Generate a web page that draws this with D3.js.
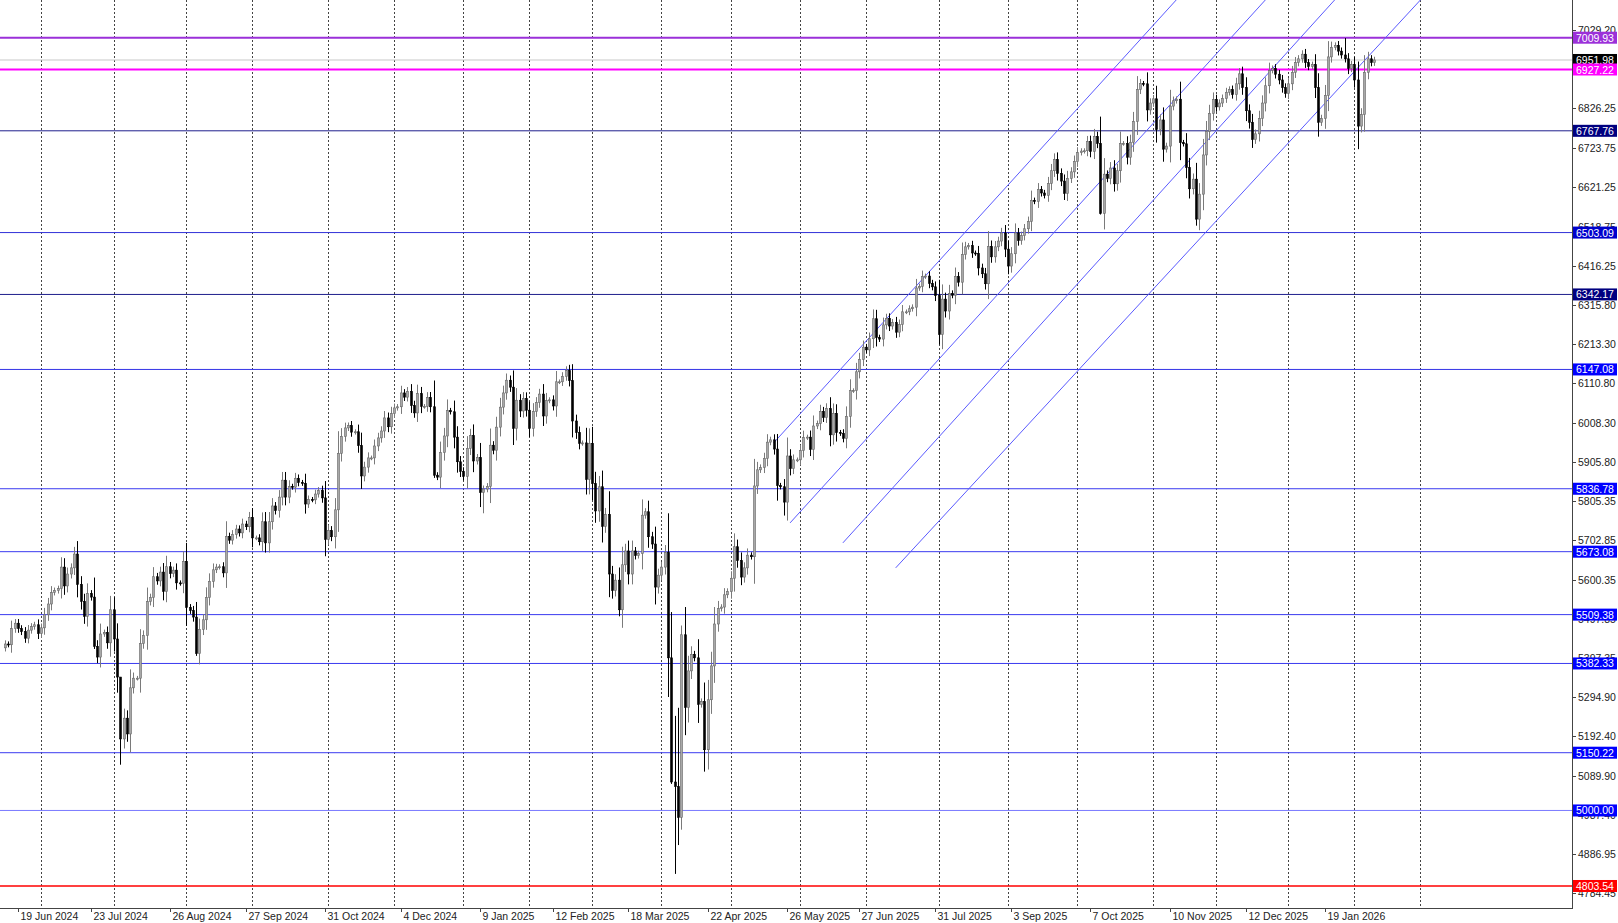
<!DOCTYPE html>
<html>
<head>
<meta charset="utf-8">
<script src="https://cdn.jsdelivr.net/npm/d3@7"></script>
<style>
  body { margin: 0; background: #fff; }
  text { font-family: "Liberation Sans", Arial, sans-serif; }
</style>
</head>
<body>
<svg id="chart" width="1618" height="923"></svg>
<script>
// daily closes, one per trading day starting 13 Jun 2024
const closes = [
  // Jun 2024
  5433, 5431, 5473, 5487, 5473, 5465, 5448, 5469, 5478, 5483, 5460,
  // Jul
  5475, 5509, 5537, 5567, 5572, 5577, 5633, 5584, 5615, 5631, 5667, 5588, 5544, 5505, 5564, 5555, 5427, 5399, 5459, 5463, 5436, 5522,
  // Aug
  5446, 5347, 5186, 5240, 5199, 5319, 5344, 5344, 5434, 5455, 5543, 5554, 5608, 5597, 5620, 5570, 5634, 5616, 5625, 5592, 5591, 5648,
  // Sep
  5528, 5520, 5503, 5408, 5471, 5496, 5554, 5596, 5626, 5633, 5634, 5618, 5713, 5703, 5718, 5732, 5722, 5745, 5738, 5762,
  // Oct
  5709, 5709, 5699, 5751, 5696, 5751, 5792, 5780, 5815, 5859, 5815, 5843, 5841, 5864, 5853, 5851, 5797, 5809, 5808, 5823, 5832, 5813, 5705,
  // Nov
  5728, 5712, 5782, 5929, 5973, 5995, 6001, 5984, 5985, 5949, 5870, 5893, 5917, 5917, 5948, 5969, 5987, 6021, 5998, 6032,
  // Dec
  6047, 6050, 6086, 6075, 6090, 6053, 6034, 6084, 6051, 6051, 6074, 6050, 5872, 5867, 5931, 5974, 6040, 6037, 5971, 5907, 5882,
  // Jan 2025
  5869, 5942, 5975, 5909, 5918, 5827, 5836, 5843, 5950, 5937, 5997, 6049, 6086, 6119, 6101, 5994, 6067, 6039, 6071, 6041,
  // Feb
  5994, 6038, 6061, 6083, 6026, 6066, 6068, 6052, 6115, 6115, 6129, 6144, 6118, 6013, 5983, 5955, 5956, 5861, 5955,
  // Mar
  5850, 5779, 5842, 5739, 5770, 5615, 5572, 5599, 5522, 5639, 5675, 5615, 5675, 5663, 5668, 5768, 5777, 5712, 5693, 5581, 5612,
  // Apr
  5633, 5671, 5397, 5074, 5062, 4982, 5457, 5268, 5363, 5406, 5397, 5276, 5283, 5158, 5288, 5376, 5485, 5525, 5529, 5561, 5569,
  // May
  5604, 5686, 5650, 5607, 5631, 5664, 5660, 5844, 5886, 5892, 5916, 5958, 5964, 5940, 5845, 5842, 5802, 5922, 5889, 5912, 5912,
  // Jun
  5936, 5970, 5971, 5939, 6000, 6006, 6038, 6022, 6045, 5977, 6033, 5983, 5981, 5968, 6025, 6092, 6092, 6141, 6173, 6205,
  // Jul
  6198, 6227, 6279, 6230, 6226, 6263, 6280, 6260, 6269, 6244, 6264, 6297, 6297, 6305, 6309, 6359, 6363, 6389, 6390, 6371, 6362, 6339,
  // Aug
  6238, 6330, 6299, 6345, 6340, 6389, 6374, 6446, 6466, 6469, 6450, 6449, 6411, 6396, 6370, 6467, 6440, 6466, 6481, 6502, 6460,
  // Sep
  6416, 6448, 6502, 6482, 6495, 6513, 6532, 6587, 6584, 6615, 6606, 6600, 6631, 6664, 6693, 6657, 6637, 6605, 6644, 6661, 6688,
  // Oct
  6711, 6715, 6716, 6740, 6714, 6753, 6735, 6553, 6655, 6644, 6671, 6630, 6664, 6735, 6735, 6699, 6738, 6792, 6875, 6891, 6890, 6822, 6840,
  // Nov
  6851, 6771, 6796, 6720, 6728, 6832, 6846, 6850, 6737, 6734, 6672, 6617, 6642, 6538, 6603, 6705, 6766, 6813, 6849,
  // Dec
  6830, 6840, 6852, 6868, 6875, 6862, 6890, 6916, 6880, 6820, 6790, 6745, 6760, 6800, 6840, 6885, 6925, 6930, 6915, 6900, 6880, 6865,
  // Jan 2026
  6890, 6920, 6945, 6955, 6967, 6945, 6935, 6940, 6880, 6790, 6800, 6860, 6960, 6985, 6990, 6975, 6965, 6955, 6930, 6940,
  // Feb
  6900, 6780, 6810, 6920, 6955, 6945, 6952
];

const holidays = [
  "2024-06-19", "2024-07-04", "2024-09-02", "2024-11-28", "2024-12-25",
  "2025-01-01", "2025-01-09", "2025-01-20", "2025-02-17", "2025-04-18",
  "2025-05-26", "2025-06-19", "2025-07-04", "2025-09-01", "2025-11-27",
  "2025-12-25", "2026-01-01", "2026-01-19"
];

// long wicks that stand out in the picture
const spikes = [
  { date: "2024-07-24", low: 5420 },
  { date: "2024-08-05", low: 5119, high: 5312 },
  { date: "2024-09-06", low: 5402 },
  { date: "2024-12-18", low: 5865 },
  { date: "2025-01-13", low: 5773 },
  { date: "2025-03-13", low: 5505 },
  { date: "2025-04-04", low: 5069 },
  { date: "2025-04-07", low: 4835, high: 5246 },
  { date: "2025-04-08", high: 5267, low: 4910 },
  { date: "2025-04-09", low: 4950, high: 5481 },
  { date: "2025-04-21", low: 5101 },
  { date: "2025-05-23", low: 5767 },
  { date: "2025-08-01", low: 6212 },
  { date: "2025-10-10", low: 6550 },
  { date: "2025-11-20", low: 6521 },
  { date: "2026-02-03", low: 6720 },
  { date: "2026-01-28", high: 7009 }
];

const levels = [7009.93, 6951.98, 6927.22, 6767.76, 6503.09, 6342.17, 6147.08, 5836.78, 5673.08, 5509.38, 5382.33, 5150.22, 5000.00, 4803.54];
const levelColors = ["#9b30d9", "#c8c8c8", "#ff00ff", "#1e1e8c", "#3030d8", "#1e1e8c", "#3434e6", "#3a3af0", "#3a3af0", "#3a3af0", "#3a3af0", "#3a3af0", "#7a7aff", "#ff0000"];
const levelLabelBg = ["#9b30d9", "#000000", "#ff00ff", "#000080", "#0000cd", "#000080", "#0000ff", "#0000ff", "#0000ff", "#0000ff", "#0000ff", "#0000ff", "#0000ff", "#ff0000"];
const levelWidths = [2, 1, 2, 1, 1, 1, 1, 1, 1, 1, 1, 1, 1, 1.5];

const yTicks = [7029.20, 6926.70, 6826.25, 6723.75, 6621.25, 6518.75, 6416.25, 6315.80, 6213.30, 6110.80, 6008.30, 5905.80, 5805.35, 5702.85, 5600.35, 5497.85, 5397.35, 5294.90, 5192.40, 5089.90, 4987.40, 4886.95, 4784.45];

const xLabels = ["19 Jun 2024", "23 Jul 2024", "26 Aug 2024", "27 Sep 2024", "31 Oct 2024", "4 Dec 2024", "9 Jan 2025", "12 Feb 2025", "18 Mar 2025", "22 Apr 2025", "26 May 2025", "27 Jun 2025", "31 Jul 2025", "3 Sep 2025", "7 Oct 2025", "10 Nov 2025", "12 Dec 2025", "19 Jan 2026"];

// channel lines: [date of start, start price, date of end, end price]
const channels = [
  ["2025-05-20", 5956, "2025-11-12", 7108],
  ["2025-05-28", 5748, "2025-12-22", 7108],
  ["2025-06-20", 5696, "2026-01-23", 7108],
  ["2025-07-15", 5631, "2026-03-02", 7108]
];

const W = 1618, H = 923, plotR = 1572, plotB = 908;
const fmt = d3.timeFormat("%Y-%m-%d");
const parse = d3.timeParse("%Y-%m-%d");

// trading days
const hol = new Set(holidays);
const days = [];
for (let d = parse("2024-06-13"); days.length < closes.length; d = d3.timeDay.offset(d, 1)) {
  const wd = d.getDay();
  if (wd === 0 || wd === 6 || hol.has(fmt(d))) continue;
  days.push(new Date(d));
}
const dayIndex = s => {
  const t = parse(s);
  const i = d3.bisectLeft(days, t);
  if (i < days.length) return i;
  let n = days.length - 1, d = new Date(days[n]);
  while (d < t) { d = d3.timeDay.offset(d, 1); if (d.getDay() % 6 !== 0) n++; }
  return n;
};

const bars = closes.map((c, i) => {
  const o = i === 0 ? c - 10 : closes[i - 1];
  const body = Math.abs(c - o);
  return { date: days[i], o, c, h: Math.max(o, c) + 0.35 * body + 6, l: Math.min(o, c) - 0.35 * body - 6 };
});
spikes.forEach(s => {
  const b = bars[dayIndex(s.date)];
  if (s.low) b.l = s.low;
  if (s.high) b.h = s.high;
});

const x = d3.scaleLinear().domain([4, 404]).range([17.9, 17.9 + 3.3 * 400]);
const y = d3.scaleLinear().domain([4746.3, 7108.0]).range([plotB, 0]);

const svg = d3.select("#chart");
svg.append("rect").attr("width", W).attr("height", H).attr("fill", "#fff");
svg.append("clipPath").attr("id", "clip").append("rect").attr("width", plotR).attr("height", plotB);
const plot = svg.append("g").attr("clip-path", "url(#clip)");

// monthly grid
const monthStarts = bars.map((b, i) => i).filter(i => i > 0 && bars[i].date.getMonth() !== bars[i - 1].date.getMonth());
monthStarts.push(dayIndex("2026-03-02"));
plot.selectAll("line.grid").data(monthStarts).enter().append("line")
  .attr("x1", d => Math.round(x(d)) + 0.5).attr("x2", d => Math.round(x(d)) + 0.5)
  .attr("y1", 0).attr("y2", plotB)
  .attr("stroke", "#444").attr("stroke-dasharray", "2,2").attr("stroke-width", 1);

// level lines
plot.selectAll("line.level").data(levels).enter().append("line")
  .attr("x1", 0).attr("x2", plotR)
  .attr("y1", d => y(d)).attr("y2", d => y(d))
  .attr("stroke", (d, i) => levelColors[i])
  .attr("stroke-width", (d, i) => levelWidths[i]);

// channels
plot.selectAll("line.channel").data(channels).enter().append("line")
  .attr("x1", d => x(dayIndex(d[0]))).attr("y1", d => y(d[1]))
  .attr("x2", d => x(dayIndex(d[2]))).attr("y2", d => y(d[3]))
  .attr("stroke", "#5a5aff").attr("stroke-width", 1);

// candles
const cg = plot.selectAll("g.bar").data(bars).enter().append("g");
cg.append("line")
  .attr("x1", (d, i) => Math.round(x(i)) + 0.5).attr("x2", (d, i) => Math.round(x(i)) + 0.5)
  .attr("y1", d => y(d.h)).attr("y2", d => y(d.l))
  .attr("stroke", d => d.c >= d.o ? "#7a7a7a" : "#000");
cg.append("rect")
  .attr("x", (d, i) => Math.round(x(i)) - 0.5).attr("width", 2)
  .attr("y", d => y(Math.max(d.o, d.c)))
  .attr("height", d => Math.max(1, y(Math.min(d.o, d.c)) - y(Math.max(d.o, d.c))))
  .attr("fill", d => d.c >= d.o ? "#a8a8a8" : "#000")
  .attr("stroke", d => d.c >= d.o ? "#666" : "#000").attr("stroke-width", 0.6);

// axes frame
svg.append("line").attr("x1", plotR + 0.5).attr("x2", plotR + 0.5).attr("y1", 0).attr("y2", plotB + 1).attr("stroke", "#444");
svg.append("line").attr("x1", 0).attr("x2", plotR + 1).attr("y1", plotB + 0.5).attr("y2", plotB + 0.5).attr("stroke", "#444");

// right axis ticks
const yt = svg.append("g");
yt.selectAll("line").data(yTicks).enter().append("line")
  .attr("x1", plotR).attr("x2", plotR + 4)
  .attr("y1", d => Math.round(y(d)) + 0.5).attr("y2", d => Math.round(y(d)) + 0.5).attr("stroke", "#444");
yt.selectAll("text").data(yTicks).enter().append("text")
  .attr("x", plotR + 6).attr("y", d => y(d) + 4)
  .attr("font-size", 10.5).attr("fill", "#222")
  .text(d => d.toFixed(2));

// level labels
const lg = svg.append("g").selectAll("g").data(levels).enter().append("g");
lg.append("rect")
  .attr("x", plotR + 1).attr("y", d => y(d) - 6).attr("width", W - plotR - 2).attr("height", 12)
  .attr("fill", (d, i) => levelLabelBg[i]);
lg.append("text")
  .attr("x", plotR + 4).attr("y", d => y(d) + 4)
  .attr("font-size", 10.5).attr("fill", "#fff")
  .text(d => d.toFixed(2));

// bottom axis
const xl = svg.append("g").selectAll("g").data(xLabels).enter().append("g")
  .attr("transform", d => `translate(${Math.round(x(dayIndex(fmt(d3.timeParse("%d %b %Y")(d))))) + 0.5},0)`);
xl.append("line").attr("y1", plotB).attr("y2", plotB + 4).attr("stroke", "#444");
xl.append("text").attr("x", 2).attr("y", plotB + 12).attr("font-size", 10.5).attr("fill", "#222").text(d => d);
</script>
</body>
</html>
